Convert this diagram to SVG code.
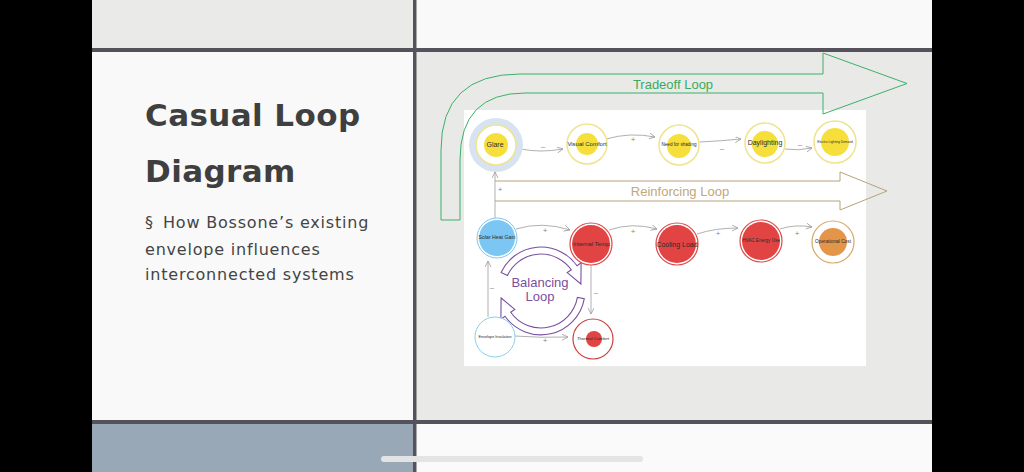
<svg xmlns="http://www.w3.org/2000/svg" width="1024" height="472" viewBox="0 0 1024 472">
<style>
.lbl{font-family:"Liberation Sans",Arial,sans-serif;fill:#2a2a2a;text-anchor:middle;dominant-baseline:middle}
.sign{font-family:"Liberation Sans",Arial,sans-serif;fill:#888;font-size:8px;text-anchor:middle;dominant-baseline:middle}
.con{fill:none;stroke:#9c9c9c;stroke-width:0.8;marker-end:url(#ah)}
.ycirc{fill:#fff;stroke:#efe48e;stroke-width:1.5}
.yfill{fill:#f6df3a}
.rcirc{fill:#fff;stroke:#dc4848;stroke-width:1.2}
.rfill{fill:#e24444}
.sep{fill:#56525c}
</style>
<defs>
<marker id="ah" markerWidth="8" markerHeight="8" refX="6" refY="3" orient="auto" markerUnits="userSpaceOnUse">
<path d="M0,0 L6,3 L0,6" fill="none" stroke="#9c9c9c" stroke-width="0.8"/>
</marker>
</defs>
<!-- background & slide grid -->
<rect x="0" y="0" width="1024" height="472" fill="#000"/>
<rect x="92" y="0" width="321" height="49" fill="#eaebe9"/>
<rect x="416" y="0" width="516" height="49" fill="#f9f9f9"/>
<rect x="92" y="52" width="321" height="369" fill="#f9f9f9"/>
<rect x="416" y="52" width="516" height="369" fill="#e9eae7"/>
<rect x="92" y="424" width="321" height="48" fill="#99a8b6"/>
<rect x="416" y="424" width="516" height="48" fill="#fafafa"/>
<rect class="sep" x="92" y="48" width="840" height="4"/>
<rect class="sep" x="92" y="420" width="840" height="4"/>
<rect class="sep" x="413" y="0" width="3.5" height="472"/>
<rect x="381" y="456" width="262" height="6" rx="3" fill="#e4e4e4"/>
<!-- left text -->
<g id="title" font-family="'DejaVu Sans',Verdana,sans-serif" fill="#3f3f3f">
<text x="145" y="126" font-size="31" font-weight="bold" letter-spacing="0.4">Casual Loop</text>
<text x="145" y="182" font-size="31" font-weight="bold" letter-spacing="0.4">Diagram</text>
<g font-size="16" letter-spacing="0.8" fill="#444">
<text x="145" y="228">§<tspan x="163">How Bossone’s existing</tspan></text>
<text x="145" y="255">envelope influences</text>
<text x="145" y="280">interconnected systems</text>
</g>
</g>
<!-- diagram picture -->
<rect x="464" y="110" width="402" height="256" fill="#ffffff"/>
<g id="tradeoff-loop">
<path d="M441,220 L441,150 Q441,74 520,74 L823,74 L823,53 L907,83.5 L823,114 L823,93 L525,93 Q460,93 460,160 L460,220 Z" fill="none" stroke="#3bb06a" stroke-width="1"/>
<text x="673" y="89" font-family="'Liberation Sans',Arial,sans-serif" font-size="13" fill="#3aaa5c" text-anchor="middle">Tradeoff Loop</text>
</g>
<g id="reinforcing-loop">
<path d="M495,181 L840,181 L840,172 L887,191 L840,210 L840,201 L495,201" fill="none" stroke="#b8a27c" stroke-width="1"/>
<text x="680" y="196" font-family="'Liberation Sans',Arial,sans-serif" font-size="13" fill="#c0a878" text-anchor="middle">Reinforcing Loop</text>
</g>
<g id="balancing-loop" fill="none" stroke="#7a4fa0" stroke-width="1.1">
<path d="M501.1,272.4 A44,44 0 0 1 577.0,265.8 L581.1,262.9 L580.9,284.0 L567.2,272.6 L571.3,269.8 A37,37 0 0 0 507.5,275.4 Z"/>
<path d="M584.3,298.6 A44,44 0 0 1 505.0,316.2 L500.9,319.1 L501.1,298.0 L514.8,309.4 L510.7,312.2 A37,37 0 0 0 577.4,297.4 Z"/>
<text x="540" y="287" stroke="none" fill="#7a4fa0" font-family="'Liberation Sans',Arial,sans-serif" font-size="13" text-anchor="middle">Balancing</text>
<text x="540" y="301" stroke="none" fill="#7a4fa0" font-family="'Liberation Sans',Arial,sans-serif" font-size="13" text-anchor="middle">Loop</text>
</g>
<!-- connectors -->
<g id="connectors">
<path class="con" d="M521,149 Q540,153 563,149"/>
<path class="con" d="M606,139 Q630,132 655,137"/>
<path class="con" d="M700,142 Q720,141 741,139"/>
<path class="con" d="M785,149 Q798,151 812,148"/>
<path class="con" d="M516,229 Q542,221 570,230"/>
<path class="con" d="M609,230 Q632,222 657,229"/>
<path class="con" d="M697,234 Q715,228 738,228"/>
<path class="con" d="M780,229 Q795,224 812,227"/>
<path class="con" d="M495,218 L495,172"/>
<path class="con" d="M488,317 L488,261"/>
<path class="con" d="M515,336 Q540,338 568,337"/>
<path class="con" d="M591,265 L591,314"/>
<text class="sign" x="543" y="147">–</text>
<text class="sign" x="633" y="140">+</text>
<text class="sign" x="722" y="149">–</text>
<text class="sign" x="800" y="145">–</text>
<text class="sign" x="545" y="231">+</text>
<text class="sign" x="633" y="232">+</text>
<text class="sign" x="718" y="234">+</text>
<text class="sign" x="797" y="234">+</text>
<text class="sign" x="500" y="190">+</text>
<text class="sign" x="492" y="288">–</text>
<text class="sign" x="545" y="341">+</text>
<text class="sign" x="596" y="293">–</text>
</g>
<!-- nodes -->
<g id="glare">
<circle cx="496" cy="145" r="27" fill="#d8e3f1"/>
<circle class="ycirc" cx="496" cy="145" r="20"/>
<circle class="yfill" cx="496" cy="145" r="12"/>
<text class="lbl" x="495" y="145" font-size="7">Glare</text>
</g>
<g id="visual-comfort">
<circle class="ycirc" cx="587" cy="144" r="20"/>
<circle class="yfill" cx="587" cy="144" r="11"/>
<text class="lbl" x="587" y="144" font-size="6">Visual Comfort</text>
</g>
<g id="need-for-shading">
<circle class="ycirc" cx="679" cy="145" r="20"/>
<circle class="yfill" cx="679" cy="146" r="12"/>
<text class="lbl" x="679" y="145" font-size="4.6">Need for shading</text>
</g>
<g id="daylighting">
<circle class="ycirc" cx="765" cy="143" r="20"/>
<circle class="yfill" cx="765" cy="144" r="13"/>
<text class="lbl" x="765" y="143" font-size="7">Daylighting</text>
</g>
<g id="electric-lighting-demand">
<circle class="ycirc" cx="835" cy="142" r="21"/>
<circle class="yfill" cx="835" cy="142" r="14"/>
<text class="lbl" x="835" y="142" font-size="3.2">Electric Lighting Demand</text>
</g>
<g id="solar-heat-gain">
<circle cx="497" cy="238" r="20" fill="none" stroke="#7cc6f3" stroke-width="1"/>
<circle cx="497" cy="238" r="18.5" fill="#7cc6f3" stroke="#fff" stroke-width="1"/>
<text class="lbl" x="497" y="238" font-size="5.2">Solar Heat Gain</text>
</g>
<g id="internal-temp">
<circle class="rcirc" cx="591" cy="244" r="21"/>
<circle class="rfill" cx="591" cy="244" r="19"/>
<text class="lbl" x="592" y="244" font-size="6">Internal Temp.</text>
</g>
<g id="cooling-load">
<circle class="rcirc" cx="677" cy="244" r="21"/>
<circle class="rfill" cx="677" cy="244" r="19"/>
<text class="lbl" x="677" y="245" font-size="7">Cooling Load</text>
</g>
<g id="hvac-energy-use">
<circle class="rcirc" cx="761" cy="241" r="21"/>
<circle class="rfill" cx="761" cy="241" r="19"/>
<text class="lbl" x="761" y="241" font-size="4.6">HVAC Energy Use</text>
</g>
<g id="operational-cost">
<circle cx="833" cy="242" r="21" fill="#fff" stroke="#d8a868" stroke-width="1.2"/>
<circle cx="833" cy="242" r="14" fill="#e3954a"/>
<text class="lbl" x="833" y="242" font-size="4.8">Operational Cost</text>
</g>
<g id="envelope-insulation">
<circle cx="495" cy="337" r="20" fill="#fff" stroke="#8ad0ee" stroke-width="1"/>
<text class="lbl" x="495" y="337" font-size="3.8">Envelope Insulation</text>
</g>
<g id="thermal-comfort">
<circle cx="593" cy="339" r="20" fill="#fff" stroke="#c84040" stroke-width="1.2"/>
<circle class="rfill" cx="594" cy="339" r="8"/>
<text class="lbl" x="593" y="339" font-size="4.3">Thermal Comfort</text>
</g>
</svg>
